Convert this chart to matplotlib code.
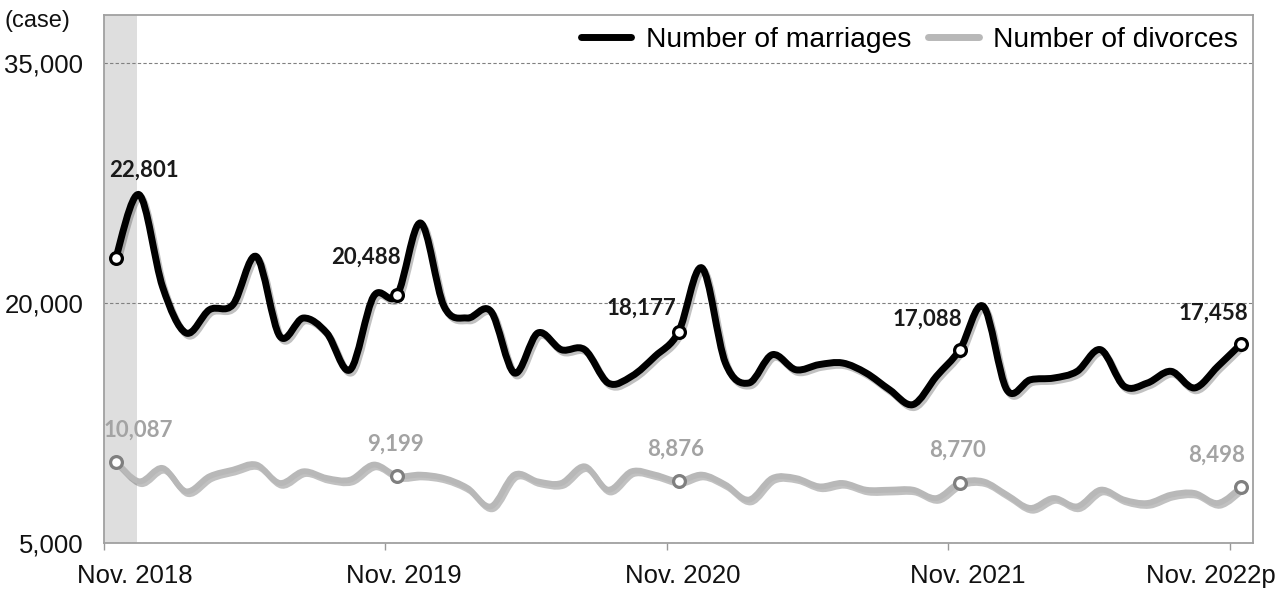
import numpy as np
import matplotlib
matplotlib.use("Agg")
import matplotlib.pyplot as plt
import matplotlib.patheffects as pe
from matplotlib.path import Path
from matplotlib.patches import PathPatch
from matplotlib.lines import Line2D

# monthly counts, Nov. 2018 .. Nov. 2022 (49 months)
marriages = [22801, 26770, 21000, 18125, 19580, 19900, 22900, 17920, 19060, 18125, 15830, 20420, 20488,
             25000, 19790, 19060, 19480, 15625, 18125, 17083, 17083, 15000, 15420, 16670, 18177,
             22190, 16250, 15000, 16770, 15830, 16150, 16250, 15625, 14580, 13650, 15420, 17088,
             19790, 14580, 15200, 15310, 15730, 17080, 14800, 15000, 15730, 14690, 16040, 17458]
divorces = [10087, 8854, 9687, 8229, 9170, 9580, 9900, 8750, 9480, 9060, 8960, 9900, 9199,
            9270, 9060, 8440, 7290, 9270, 8850, 8750, 9790, 8330, 9480, 9270, 8876,
            9270, 8650, 7710, 9060, 9060, 8540, 8750, 8330, 8330, 8330, 7810, 8770,
            8850, 8020, 7190, 7810, 7290, 8330, 7710, 7500, 8020, 8125, 7500, 8498]
labeled_idx = [0, 12, 24, 36, 48]
tick_labels = ['Nov. 2018', 'Nov. 2019', 'Nov. 2020', 'Nov. 2021', 'Nov. 2022p']
label_pos = [1.32, 12.77, 24.68, 36.83, 47.19]

# label offsets in pixels (dx, dy)
m_off = [(28, 88), (-31, 38), (-37, 24), (-32, 30), (-28, 30)]
d_off = [(23, 31), (-2, 32), (-3, 32), (-2, 32), (-25, 32)]

x = np.arange(len(marriages)) + 0.5


def smooth_path(xs, ys):
    pts = np.column_stack([xs, ys]).astype(float)
    n = len(pts)
    verts = [pts[0]]
    codes = [Path.MOVETO]
    for i in range(n - 1):
        p0 = pts[i - 1] if i > 0 else pts[i]
        p1 = pts[i]
        p2 = pts[i + 1]
        p3 = pts[i + 2] if i + 2 < n else pts[i + 1]
        verts += [p1 + (p2 - p0) / 6, p2 - (p3 - p1) / 6, p2]
        codes += [Path.CURVE4] * 3
    return Path(verts, codes)


plt.rcParams['font.family'] = ['Liberation Sans', 'DejaVu Sans']
fig = plt.figure(figsize=(12.87, 5.98), dpi=100)
ax = fig.add_axes([0.0808, 0.092, 0.8928, 0.8829])

ax.axvspan(0, 1.4, color='#dedede', zorder=0, lw=0)

shadow = [pe.SimpleLineShadow(offset=(1.5, -2), shadow_color='0.2', alpha=0.3), pe.Normal()]
ax.add_patch(PathPatch(smooth_path(x, divorces), fill=False, ec='#b8b8b8', lw=4.2,
                       capstyle='round', joinstyle='round', zorder=3, path_effects=shadow))
ax.add_patch(PathPatch(smooth_path(x, marriages), fill=False, ec='black', lw=5,
                       capstyle='round', joinstyle='round', zorder=4, path_effects=shadow))

mx = x[labeled_idx]
my = [marriages[i] for i in labeled_idx]
dy = [divorces[i] for i in labeled_idx]
ax.plot(mx, my, 'o', ms=8.5, mfc='white', mec='black', mew=2.3, zorder=6, ls='none')
ax.plot(mx, dy, 'o', ms=8.5, mfc='white', mec='#7f7f7f', mew=2.3, zorder=5, ls='none')

for xi, yi, (ox, oy) in zip(mx, my, m_off):
    ax.annotate(f'{yi:,}', (xi, yi), xytext=(ox * 0.72, oy * 0.72), textcoords='offset points',
                ha='center', va='center', fontsize=16, fontweight='bold', color='#1a1a1a',
                family=['Lato', 'DejaVu Sans'], zorder=7)
for xi, yi, (ox, oy) in zip(mx, dy, d_off):
    ax.annotate(f'{yi:,}', (xi, yi), xytext=(ox * 0.72, oy * 0.72), textcoords='offset points',
                ha='center', va='center', fontsize=16, fontweight='bold', color='#a3a3a3',
                family=['Lato', 'DejaVu Sans'], zorder=7)

ax.set_xlim(0, len(marriages))
ax.set_ylim(5000, 38000)
ax.set_yticks([5000, 20000, 35000])
ax.set_yticklabels([f'{v:,}' for v in [5000, 20000, 35000]])
ax.yaxis.grid(True, linestyle=(0, (3, 2)), color='#808080', lw=0.8)
ax.set_axisbelow(True)

ax.set_xticks([0, 12, 24, 36, 48])
ax.set_xticklabels([])
ax.set_xticks(label_pos, minor=True)
ax.set_xticklabels(tick_labels, minor=True)
ax.tick_params(axis='x', which='major', length=5, color='#999999', width=1)
ax.tick_params(axis='x', which='minor', length=0, pad=15, labelsize=18.5, labelcolor='#111111')
ax.tick_params(axis='y', length=0, pad=15, labelsize=18.5, labelcolor='#111111')

for s in ax.spines.values():
    s.set_color('#a0a0a0')
    s.set_linewidth(1.3)

fig.text(5 / 1287, 1 - 21 / 598, '(case)', fontsize=17, va='center', ha='left', color='#111111')

handles = [Line2D([], [], color='black', lw=5, solid_capstyle='round'),
           Line2D([], [], color='#b8b8b8', lw=5, solid_capstyle='round')]
ax.legend(handles, ['Number of marriages', 'Number of divorces'], loc='center right',
          bbox_to_anchor=(1.0, 0.953), ncol=2, frameon=False, fontsize=20.3,
          handlelength=1.8, handletextpad=0.5, columnspacing=0.6, borderaxespad=0, borderpad=0.55)

fig.savefig('out.png', dpi=100)
